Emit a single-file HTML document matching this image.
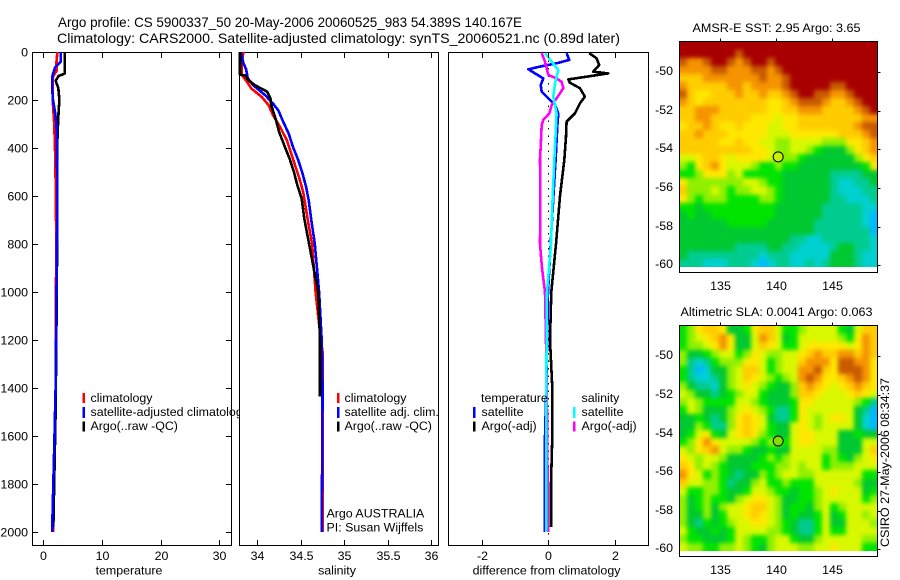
<!DOCTYPE html>
<html>
<head>
<meta charset="utf-8">
<title>Argo profile</title>
<style>
html,body{margin:0;padding:0;background:#fff;}
svg{display:block;}
text{font-family:"Liberation Sans",sans-serif;font-size:12.4px;fill:#000;}
</style>
</head>
<body>
<svg id="chart" xmlns="http://www.w3.org/2000/svg" width="900" height="580" viewBox="0 0 900 580">
<rect x="0" y="0" width="900" height="580" fill="#fff"/>
<g id="p1"></g>
<g id="p2"></g>
<g id="p3"></g>
<g id="m1"></g>
<g id="m2"></g>
<g id="annot">
<text x="58" y="27" style="font-size:14px" textLength="464" lengthAdjust="spacingAndGlyphs">Argo profile: CS 5900337_50 20-May-2006 20060525_983 54.389S 140.167E</text>
<text x="57" y="43" style="font-size:14px" textLength="563" lengthAdjust="spacingAndGlyphs">Climatology: CARS2000. Satellite-adjusted climatology: synTS_20060521.nc (0.89d later)</text>
<text x="692.5" y="32" textLength="168" lengthAdjust="spacingAndGlyphs">AMSR-E SST: 2.95 Argo: 3.65</text>
<text x="680.5" y="316" textLength="192" lengthAdjust="spacingAndGlyphs">Altimetric SLA: 0.0041 Argo: 0.063</text>
<text transform="translate(889,547) rotate(-90)" textLength="169" lengthAdjust="spacingAndGlyphs">CSIRO 27-May-2006 08:34:37</text>
<text x="129" y="574.5" text-anchor="middle">temperature</text>
<text x="337" y="574.5" text-anchor="middle">salinity</text>
<text x="546.5" y="574.5" text-anchor="middle">difference from climatology</text>
<text x="326.5" y="517.5">Argo AUSTRALIA</text>
<text x="326.5" y="531.5">PI: Susan Wijffels</text>
</g>
</svg>
<script>
/* ---------- axis tick data ---------- */
var depthTicks = [0,200,400,600,800,1000,1200,1400,1600,1800,2000];
var tempTicks = [0,10,20,30];
var salTicks = [34,34.5,35,35.5,36];
var salTickLabels = ['34','34.5','35','35.5','36'];
var diffTicks = [-2,0,2];
var lonTicks = [135,140,145];
var latTicks = [-50,-52,-54,-56,-58,-60];

/* ---------- temperature panel series ---------- */
var tempClimDepth = [0,40,80,100,150,200,300,400,600,800,1400,2000];
var tempClimValue = [2.4,2.25,2.25,1.65,1.6,1.6,1.85,2.0,2.15,2.2,2.1,1.7];
var tempSatDepth = [0,40,65,100,150,200,250,300,400,600,1000,1400,1600,1800,2000];
var tempSatValue = [3.0,3.0,2.0,1.55,1.5,1.65,2.0,2.25,2.3,2.4,2.25,2.1,1.9,1.7,1.5];
var tempArgoDepth = [0,90,100,120,150,200,250,300,400,600,1000,1500,1800,1980];
var tempArgoValue = [3.65,3.65,2.6,2.1,2.55,2.75,2.6,2.5,2.35,2.4,2.3,2.1,1.85,1.7];

/* ---------- salinity panel series ---------- */
var salClimDepth = [0,40,96,124,152,187,222,263,312,368,423,479,535,590,700,800,1000,1200,1250,1400,2000];
var salClimValue = [33.84,33.82,33.82,33.88,33.93,34.05,34.13,34.18,34.26,34.34,34.39,34.44,34.49,34.53,34.58,34.63,34.67,34.73,34.75,34.75,34.75];
var salSatDepth = [0,47,72,109,138,180,215,243,285,340,396,450,507,562,618,700,800,1000,1200,1400,2000];
var salSatValue = [33.81,33.84,33.87,33.89,33.95,34.09,34.18,34.24,34.29,34.36,34.41,34.47,34.52,34.56,34.59,34.62,34.66,34.71,34.74,34.75,34.74];
var salArgoDepth = [0,94,98,117,138,165,193,222,278,333,389,444,500,556,611,694,1000,1200,1435];
var salArgoValue = [33.8,33.8,33.86,33.895,33.97,34.11,34.15,34.16,34.21,34.25,34.31,34.37,34.42,34.46,34.51,34.54,34.7,34.72,34.72];

/* ---------- difference panel series ---------- */
var dtSatDepth = [5,33,47,61,72,89,110,138,165,193,221,256,311,450,700,1000,1400,1650,2000];
var dtSatValue = [0.56,0.64,0.26,-0.24,-0.59,-0.39,-0.14,-0.22,-0.19,0.01,0.21,0.31,0.28,0.23,0.12,0,-0.05,-0.1,-0.1];
var dtArgoDepth = [5,26,54,82,89,103,114,128,151,186,214,256,290,353,450,600,800,1000,1200,1400,1600,1800,1980];
var dtArgoValue = [1.24,1.46,1.54,1.36,1.81,1.16,0.61,0.66,0.96,1.11,0.96,0.81,0.56,0.54,0.49,0.36,0.24,0.1,0.06,0.13,0.13,0.09,0.09];
var dsSatDepth = [5,40,75,103,131,186,256,311,450,600,800,1000,1400,1800,2000];
var dsSatValue = [-0.09,0.11,0.31,0.26,0.21,0.16,0.26,0.24,0.19,0.14,0.09,-0.03,-0.05,-0.05,-0.05];
var dsArgoDepth = [5,40,68,96,110,124,151,172,193,221,256,283,304,367,450,600,800,900,1000,1200,1500,2000];
var dsArgoValue = [-0.19,-0.09,-0.04,0.01,0.26,0.41,0.46,0.36,0.26,0.11,0.04,-0.14,-0.19,-0.21,-0.24,-0.23,-0.24,-0.18,-0.09,-0.06,-0.03,0];

/* ---------- float position ---------- */
var floatLon = 140.167;
var floatLat = -54.389;

/* ---------- map colour levels (low to high) ---------- */
var levelColors = ['#00b8ff','#00d0d0','#00cc90','#00c830','#00e400','#90f000','#d8f800','#ffe800','#ffcc00','#f59400','#c85a00','#a80000'];

/* ---------- SST map levels ---------- */
var sstGrid = [
[11,11,11,11,11,11,11,11,11,11,11,11,11,11,11,11,11,11,11,11,11,11,11,11,11],
[11,11,11,11,11,11,11,10,11,11,11,11,11,11,11,11,11,11,11,11,11,11,11,11,11],
[10,9,9,10,11,11,10,9,10,11,11,10,11,11,11,11,11,11,11,11,11,11,11,11,11],
[9,9,9,9,10,10,9,9,9,10,10,9,10,11,11,11,11,11,11,11,11,11,11,11,11],
[8,8,8,9,9,9,9,9,9,9,10,9,9,10,11,11,11,11,11,11,11,11,11,11,11],
[9,8,8,8,8,8,9,9,8,9,9,9,9,10,11,11,11,11,11,10,10,11,11,11,11],
[10,8,7,7,8,8,8,9,8,8,9,8,8,9,10,11,11,10,10,9,9,10,11,11,11],
[9,8,7,8,8,8,8,8,8,8,8,7,7,8,9,10,10,10,9,8,8,9,10,11,11],
[8,8,9,9,9,8,8,8,8,8,8,7,7,8,8,9,9,9,8,8,8,8,9,10,11],
[8,8,9,9,8,8,8,8,8,7,7,7,6,7,7,8,8,8,8,8,8,8,8,9,9],
[7,8,8,9,8,7,7,8,7,7,7,6,6,7,7,8,8,8,8,8,8,8,9,10,10],
[8,8,9,8,8,8,7,7,7,7,7,6,6,6,7,7,7,7,7,7,8,8,8,9,10],
[8,8,8,8,8,7,7,8,7,7,6,6,5,5,6,6,6,6,5,5,5,7,7,8,9],
[8,8,8,8,8,8,8,8,8,7,7,6,5,5,6,6,5,4,3,3,3,5,7,8,9],
[6,6,7,8,8,7,6,7,7,7,7,6,5,5,5,4,3,3,3,3,3,3,5,7,8],
[5,4,7,8,9,7,6,6,6,5,4,4,5,4,4,3,3,3,3,3,3,3,3,4,7],
[4,4,5,7,7,7,5,6,4,4,4,4,4,3,3,3,3,3,3,2,2,2,2,3,3],
[7,5,5,5,5,5,5,5,6,6,5,4,4,3,3,3,3,3,3,2,1,1,2,2,3],
[8,5,5,5,6,5,4,5,5,6,6,5,4,3,3,3,3,3,3,2,1,1,1,2,2],
[7,5,4,5,5,5,4,4,4,4,5,5,4,3,3,3,3,3,3,2,2,1,1,1,2],
[4,4,3,4,4,4,4,4,4,4,4,4,3,3,3,3,3,3,2,2,2,2,2,1,1],
[3,4,3,3,4,4,4,4,4,4,4,4,3,3,3,3,3,3,2,2,2,2,2,1,0],
[3,3,3,3,3,3,4,4,4,4,4,3,3,3,3,3,3,2,2,2,2,2,2,1,0],
[3,3,3,3,3,3,3,3,3,3,3,3,3,3,3,3,3,2,2,2,2,2,2,2,0],
[3,3,3,3,3,3,3,3,3,3,3,3,3,3,2,2,1,1,2,2,2,2,2,2,1],
[3,3,3,3,3,3,3,2,2,2,2,3,3,2,2,1,1,1,1,2,3,3,2,2,1],
[3,2,2,2,2,2,2,2,2,2,1,2,2,2,1,1,1,1,1,3,3,3,2,1,1],
[2,2,2,1,1,1,2,2,2,1,0,1,2,2,1,1,2,1,2,3,3,3,2,1,1]
];

/* ---------- SLA map levels ---------- */
var slaGrid = [
[4,5,7,8,8,7,3,3,4,7,8,8,6,4,4,5,6,6,6,6,4,3,6,8,8],
[4,5,6,7,8,9,7,3,3,6,9,8,6,3,4,6,6,6,6,6,5,4,7,9,8],
[4,5,5,6,7,9,7,3,3,6,8,7,6,4,4,6,7,7,7,7,7,6,7,9,8],
[5,3,3,4,5,6,6,4,5,7,6,5,5,6,6,7,8,9,8,8,9,9,8,9,8],
[5,2,1,2,4,5,5,5,7,7,6,4,5,6,6,8,9,9,9,7,10,10,9,9,7],
[4,2,0,1,3,3,5,6,8,8,6,4,5,6,6,9,9,10,8,7,10,10,10,9,7],
[4,2,1,1,2,3,5,6,8,7,6,5,4,5,6,9,10,9,7,7,8,9,10,9,7],
[5,3,2,2,1,3,5,6,7,6,5,4,3,3,5,8,9,8,7,6,7,8,9,8,7],
[6,5,3,3,2,3,4,5,6,6,4,3,3,3,5,8,8,7,6,6,6,7,8,7,6],
[5,6,5,4,4,4,4,6,6,5,4,3,3,3,4,7,7,6,6,6,6,6,5,4,2],
[4,6,5,3,3,3,5,6,7,6,5,4,2,2,4,7,6,6,6,6,6,6,3,2,0],
[3,3,4,3,2,3,5,7,8,7,6,3,2,2,4,7,6,5,6,7,7,6,3,1,0],
[3,3,5,4,2,2,5,7,8,7,6,4,3,3,6,7,6,5,6,6,6,6,3,1,0],
[3,4,6,7,4,3,6,7,8,7,5,4,3,3,6,7,7,6,6,6,3,3,4,3,3],
[4,5,7,9,7,6,6,6,6,5,4,5,5,4,6,7,7,6,6,6,3,3,3,6,6],
[6,5,7,8,9,6,5,5,4,3,3,4,3,3,6,6,6,6,5,5,3,3,3,6,8],
[7,6,5,6,6,5,3,3,3,3,4,5,4,5,6,6,6,6,4,5,4,3,5,6,7],
[8,7,5,6,5,4,3,3,3,4,4,4,5,5,6,5,6,6,4,5,5,5,6,6,6],
[9,7,6,4,5,4,3,2,3,3,5,4,5,6,6,5,5,6,6,6,6,6,6,4,4],
[8,6,6,5,5,4,2,3,3,5,6,4,4,5,4,4,4,6,6,6,6,6,5,3,3],
[6,4,4,5,5,4,3,3,4,6,6,5,4,4,3,4,4,5,6,7,6,6,6,3,4],
[5,3,4,5,4,4,3,5,6,7,7,6,5,3,3,4,4,5,6,6,6,6,6,4,5],
[5,3,4,5,3,5,6,6,7,8,8,6,5,3,4,4,3,5,6,4,5,6,6,6,6],
[5,3,3,5,3,4,6,6,7,8,7,6,5,3,4,3,3,4,6,3,4,6,6,5,6],
[5,3,2,4,3,4,5,6,6,7,7,6,5,4,3,2,2,4,6,3,3,6,6,6,5],
[6,4,3,3,4,3,4,6,6,6,6,5,5,4,3,2,2,4,6,4,4,6,6,6,6],
[5,4,4,3,3,3,4,6,5,4,4,5,6,6,4,3,3,5,6,6,6,6,6,5,5],
[6,5,5,4,4,5,5,6,5,4,3,5,6,6,6,5,5,6,6,7,6,6,6,4,4]
];

/* ---------- axis functions ---------- */
var NS = 'http://www.w3.org/2000/svg';
function depthY(d){ return 52 + 0.24*d; }
function tempX(t){ return 43.3 + 5.87*t; }
function salX(s){ return 344.3 + 86.9*(s-35); }
function diffX(v){ return 548 + 33.25*v; }
function lonX(l){ return 776.3 + 11.23*(l-140); }
function map1Y(l){ return 72 + 19.33*(-50-l); }
function map2Y(l){ return 356.3 + 19.3*(-50-l); }

function mk(parent, tag, attrs, txt){
  var el = document.createElementNS(NS, tag);
  for (var k in attrs) el.setAttribute(k, attrs[k]);
  if (txt !== undefined) el.textContent = txt;
  parent.appendChild(el);
  return el;
}
function hline(g,x1,y1,x2,y2,name){
  var l = mk(g,'line',{x1:x1,y1:y1,x2:x2,y2:y2,stroke:'#000','stroke-width':1,'shape-rendering':'crispEdges'});
  
  
  return l;
}
function frame(g,x,y,w,h,name){
  var r = mk(g,'rect',{x:x,y:y,width:w,height:h,fill:'#fff',stroke:'#000','stroke-width':1,'shape-rendering':'crispEdges'});
  
  
  return r;
}
function frameLine(g,x,y,w,h,name){
  var r = mk(g,'rect',{x:x,y:y,width:w,height:h,fill:'none',stroke:'#000','stroke-width':1,'shape-rendering':'crispEdges'});
  
  
  return r;
}
function label(g,x,y,anchor,txt,name){
  var t = mk(g,'text',{x:x,y:y,'text-anchor':anchor},txt);
  
  
  return t;
}
function profile(g,depths,values,xf,color,name,width){
  var pts = [];
  for (var i=0;i<depths.length;i++) pts.push(xf(values[i]).toFixed(1)+','+depthY(depths[i]).toFixed(1));
  var p = mk(g,'polyline',{points:pts.join(' '),fill:'none',stroke:color,'stroke-width':width||2.6,'stroke-linejoin':'round','shape-rendering':'crispEdges'});
  
  
  return p;
}
function swatch(g,x,y,h,color,name){
  var r = mk(g,'rect',{x:x,y:y,width:2.5,height:h,fill:color,'shape-rendering':'crispEdges'});
  
  
  return r;
}

var LEG = [{sy:393,by:402},{sy:407,by:416},{sy:421.5,by:430}];
var PT=52.5, PB=545.5;

/* ---------- panel 1 ---------- */
(function(){
  var g = document.getElementById('p1');
  frame(g,32.5,PT,199,PB-PT,'temperature-axes-frame');
  profile(g,tempClimDepth,tempClimValue,tempX,'#ff0000','temperature-climatology-line');
  profile(g,tempArgoDepth,tempArgoValue,tempX,'#000000','temperature-argo-line');
  profile(g,tempSatDepth,tempSatValue,tempX,'#0000ff','temperature-satellite-line');
  depthTicks.forEach(function(d){
    var y = Math.round(depthY(d))+0.5;
    hline(g,33,y,38,y,'depth-tick-left');
    hline(g,226,y,231,y,'depth-tick-right');
    label(g,28,y+4,'end',String(d),'depth-tick-label');
  });
  tempTicks.forEach(function(v){
    var x = Math.round(tempX(v))+0.5;
    hline(g,x,53,x,58,'temperature-tick-top');
    hline(g,x,540,x,545,'temperature-tick-bottom');
    label(g,x,560,'middle',String(v),'temperature-tick-label');
  });
  swatch(g,82.5,LEG[0].sy,10,'#ff0000','legend-swatch-climatology');
  swatch(g,82.5,LEG[1].sy,11,'#0000ff','legend-swatch-satellite');
  swatch(g,82.5,LEG[2].sy,10,'#000000','legend-swatch-argo');
  label(g,90.5,LEG[0].by,'start','climatology','legend-climatology');
  label(g,90.5,LEG[1].by,'start','satellite-adjusted climatology','legend-satellite');
  label(g,90.5,LEG[2].by,'start','Argo(..raw -QC)','legend-argo');
})();

/* ---------- panel 2 ---------- */
(function(){
  var g = document.getElementById('p2');
  frame(g,239.5,PT,199,PB-PT,'salinity-axes-frame');
  profile(g,salClimDepth,salClimValue,salX,'#ff0000','salinity-climatology-line');
  profile(g,salSatDepth,salSatValue,salX,'#0000ff','salinity-satellite-line');
  profile(g,salArgoDepth,salArgoValue,salX,'#000000','salinity-argo-line');
  salTicks.forEach(function(v,i){
    var x = Math.round(salX(v))+0.5;
    hline(g,x,53,x,58,'salinity-tick-top');
    hline(g,x,540,x,545,'salinity-tick-bottom');
    label(g,x,560,'middle',salTickLabels[i],'salinity-tick-label');
  });
  swatch(g,337,LEG[0].sy,10,'#ff0000','legend-swatch-climatology');
  swatch(g,337,LEG[1].sy,11,'#0000ff','legend-swatch-satellite');
  swatch(g,337,LEG[2].sy,10,'#000000','legend-swatch-argo');
  label(g,344.5,LEG[0].by,'start','climatology','legend-climatology');
  label(g,344.5,LEG[1].by,'start','satellite adj. clim.','legend-satellite');
  label(g,344.5,LEG[2].by,'start','Argo(..raw -QC)','legend-argo');
})();

/* ---------- panel 3 ---------- */
(function(){
  var g = document.getElementById('p3');
  frame(g,448.5,PT,200,PB-PT,'difference-axes-frame');
  var zero = mk(g,'line',{x1:diffX(0)+0.5,y1:53,x2:diffX(0)+0.5,y2:545,stroke:'#000','stroke-width':1,'stroke-dasharray':'1.5 6','shape-rendering':'crispEdges'});
  
  
  profile(g,dtArgoDepth,dtArgoValue,diffX,'#000000','temperature-argo-difference-line');
  profile(g,dtSatDepth,dtSatValue,diffX,'#0000ff','temperature-satellite-difference-line');
  profile(g,dsArgoDepth,dsArgoValue,diffX,'#ff00ff','salinity-argo-difference-line');
  profile(g,dsSatDepth,dsSatValue,diffX,'#00ffff','salinity-satellite-difference-line');
  diffTicks.forEach(function(v){
    var x = Math.round(diffX(v))+0.5;
    hline(g,x,53,x,58,'difference-tick-top');
    hline(g,x,540,x,545,'difference-tick-bottom');
    label(g,x,560,'middle',String(v),'difference-tick-label');
  });
  label(g,481,LEG[0].by,'start','temperature','legend-temperature-heading');
  label(g,481.5,LEG[1].by,'start','satellite','legend-temperature-satellite');
  label(g,481.5,LEG[2].by,'start','Argo(-adj)','legend-temperature-argo');
  label(g,581.5,LEG[0].by,'start','salinity','legend-salinity-heading');
  label(g,581.5,LEG[1].by,'start','satellite','legend-salinity-satellite');
  label(g,581.5,LEG[2].by,'start','Argo(-adj)','legend-salinity-argo');
  swatch(g,473,LEG[1].sy,11,'#0000ff','legend-swatch-temperature-satellite');
  swatch(g,473,LEG[2].sy,10,'#000000','legend-swatch-temperature-argo');
  swatch(g,573,LEG[1].sy,11,'#00ffff','legend-swatch-salinity-satellite');
  swatch(g,573,LEG[2].sy,10,'#ff00ff','legend-swatch-salinity-argo');
})();

/* ---------- maps ---------- */
function drawMap(gid,grid,yf,topPx,bottomPx,dataBottomPx,circleFill,labelY,name){
  var g = document.getElementById(gid);
  var rows = grid.length, cols = grid[0].length;
  var lonL = 140+(679.5-776.3)/11.23, lonR = 140+(877.5-776.3)/11.23;
  var dLon = (lonR-lonL)/cols;
  var scale = (yf(-51)-yf(-50));
  var latT = -50-(topPx-yf(-50))/scale;
  var latB = -50-(dataBottomPx-yf(-50))/scale;
  var dLat = (latT-latB)/rows;
  var fid = gid+'-smooth';
  var f = mk(g,'filter',{id:fid,filterUnits:'userSpaceOnUse',x:680,y:Math.ceil(topPx),width:197,height:Math.floor(dataBottomPx-topPx),'color-interpolation-filters':'sRGB'});
  mk(f,'feGaussianBlur',{stdDeviation:2.2});
  var ct = mk(f,'feComponentTransfer',{});
  mk(ct,'feFuncA',{type:'linear',slope:30});
  var layer = mk(g,'g',{filter:'url(#'+fid+')'});
  
  
  for (var r=0;r<rows;r++){
    for (var c=0;c<cols;c++){
      var x0 = Math.round(lonX(lonL+c*dLon)), x1 = Math.round(lonX(lonL+(c+1)*dLon));
      var y0 = Math.round(yf(latT-r*dLat)), y1 = Math.round(yf(latT-(r+1)*dLat));
      var cell = mk(layer,'rect',{x:x0,y:y0,width:x1-x0,height:y1-y0,fill:levelColors[grid[r][c]],'shape-rendering':'crispEdges'});
      
      
    }
  }
  frameLine(g,679.5,topPx,198,bottomPx-topPx,name+'-frame');
  lonTicks.forEach(function(v){
    var x = Math.round(lonX(v))+0.5;
    hline(g,x,topPx-3,x,topPx,name+'-lon-tick-top');
    label(g,x,labelY,'middle',String(v),name+'-lon-tick-label');
  });
  latTicks.forEach(function(v){
    var y = Math.round(yf(v))+0.5;
    hline(g,877.5,y,880.5,y,name+'-lat-tick-right');
    label(g,673,y+2.5,'end',String(v),name+'-lat-tick-label');
  });
  var m = mk(g,'circle',{cx:lonX(floatLon),cy:yf(floatLat),r:5,fill:circleFill,stroke:'#000','stroke-width':1});
  
  
}
drawMap('m1',sstGrid,map1Y,41.5,272.5,267,'#c8f000',290,'sst-map');
drawMap('m2',slaGrid,map2Y,325.5,556.5,551,'#80e000',574,'sla-map');
</script>
</body>
</html>
